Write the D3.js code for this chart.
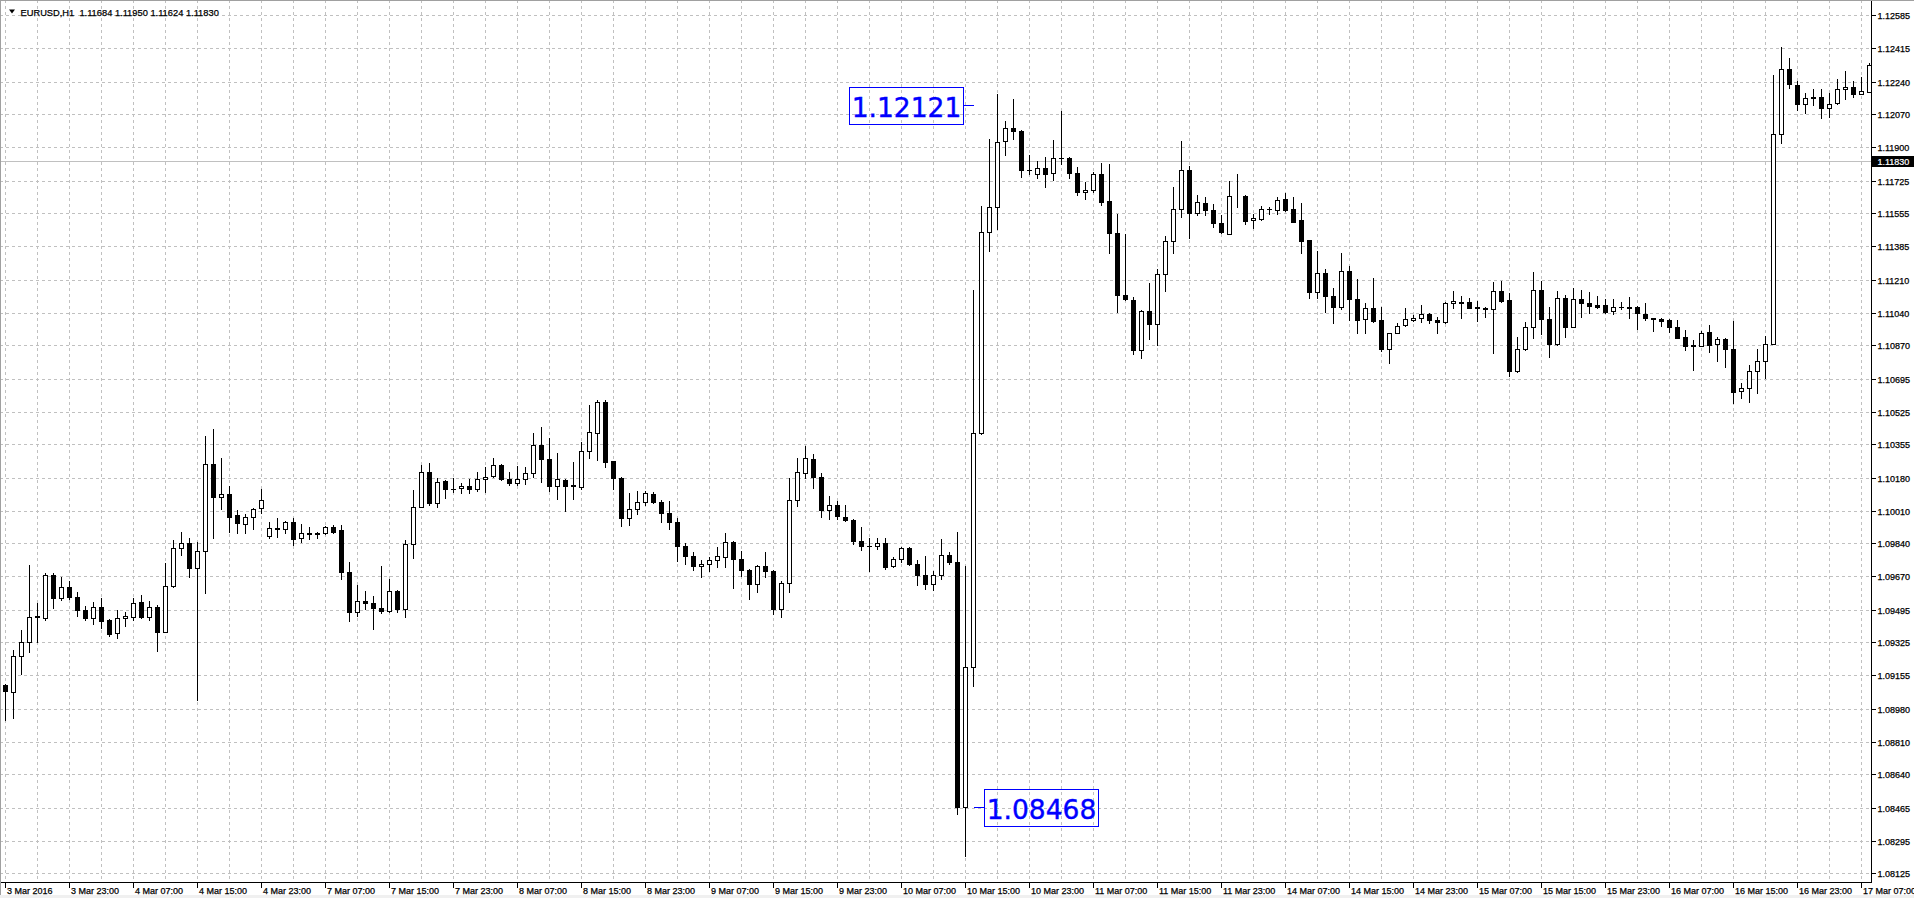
<!DOCTYPE html>
<html><head><meta charset="utf-8">
<script src="https://cdn.jsdelivr.net/npm/d3@7"></script>
<style>
html,body{margin:0;padding:0;background:#fff;overflow:hidden}
svg{display:block}
text{font-family:"Liberation Sans",Arial,sans-serif}
.lbl{stroke:#000;stroke-width:0.25px}
</style></head><body>
<svg id="c" width="1914" height="898"></svg>
<script>
// ---------------- DATA ----------------
const symbolTitle = "EURUSD,H1";
const headerOHLC = ["1.11684", "1.11950", "1.11624", "1.11830"];
const bidPrice = 1.11830;

const open = [
1.09104,1.09069,1.09256,1.09326,1.09462,1.09450,1.09676,1.09554,1.09611,1.09560,
1.09494,1.09454,1.09508,1.09442,1.09372,1.09450,1.09459,1.09534,1.09459,1.09508,
1.09381,1.09620,1.09818,1.09840,1.09710,1.09802,1.10251,1.10083,1.10095,1.09986,
1.09939,1.09979,1.10022,1.09880,1.09918,1.09913,1.09949,1.09866,1.09896,1.09887,
1.09896,1.09923,1.09910,1.09693,1.09481,1.09541,1.09528,1.09502,1.09490,1.09592,
1.09497,1.09835,1.10031,1.10209,1.10052,1.10164,1.10123,1.10126,1.10140,1.10121,
1.10173,1.10190,1.10246,1.10173,1.10152,1.10173,1.10204,1.10351,1.10277,1.10138,
1.10169,1.10143,1.10135,1.10322,1.10412,1.10573,1.10268,1.10181,1.09974,1.10019,
1.10053,1.10098,1.10053,1.10000,1.09953,1.09827,1.09774,1.09721,1.09734,1.09756,
1.09769,1.09849,1.09761,1.09703,1.09631,1.09721,1.09697,1.09498,1.09636,1.10066,
1.10207,1.10281,1.10185,1.10013,1.10042,1.09976,1.09962,1.09854,1.09827,1.09827,
1.09841,1.09721,1.09761,1.09814,1.09734,1.09676,1.09631,1.09676,1.09777,1.09742,
1.08468,1.09199,1.10413,1.11461,1.11591,1.11930,1.11997,1.11983,1.11779,1.11758,
1.11792,1.11763,1.11843,1.11843,1.11763,1.11665,1.11678,1.11758,1.11620,1.11453,
1.11129,1.11103,1.10843,1.11047,1.10981,1.11241,1.11413,1.11580,1.11779,1.11559,
1.11607,1.11572,1.11506,1.11448,1.11644,1.11647,1.11519,1.11527,1.11578,1.11572,
1.11628,1.11576,1.11521,1.11417,1.11148,1.11244,1.11128,1.11070,1.11256,1.11109,
1.11004,1.11062,1.11001,1.10849,1.10935,1.10975,1.11001,1.11010,1.11032,1.11001,
1.10989,1.11088,1.11096,1.11093,1.11070,1.11065,1.11056,1.11152,1.11105,1.10736,
1.10849,1.10963,1.11157,1.11004,1.10875,1.11114,1.10963,1.11109,1.11088,1.11079,
1.11079,1.11050,1.11067,1.11067,1.11067,1.11031,1.11010,1.11004,1.11001,1.10963,
1.10911,1.10871,1.10868,1.10937,1.10875,1.10901,1.10849,1.10634,1.10646,1.10738,
1.10790,1.10877,1.11966,1.12304,1.12223,1.12122,1.12159,1.12159,1.12101,1.12127,
1.12200,1.12214,1.12174,1.12188];
const high = [
1.09110,1.09286,1.09390,1.09728,1.09528,1.09688,1.09684,1.09667,1.09646,1.09589,
1.09514,1.09534,1.09554,1.09445,1.09494,1.09485,1.09554,1.09571,1.09541,1.09519,
1.09736,1.09858,1.09901,1.09870,1.09849,1.10398,1.10433,1.10282,1.10138,1.10013,
1.09993,1.10022,1.10123,1.09949,1.09970,1.09956,1.09970,1.09939,1.09927,1.09901,
1.09930,1.09935,1.09935,1.09741,1.09624,1.09592,1.09568,1.09722,1.09655,1.09598,
1.09858,1.10117,1.10247,1.10259,1.10178,1.10169,1.10178,1.10152,1.10173,1.10213,
1.10239,1.10282,1.10253,1.10213,1.10242,1.10239,1.10415,1.10443,1.10386,1.10308,
1.10173,1.10265,1.10365,1.10559,1.10584,1.10584,1.10270,1.10183,1.10103,1.10112,
1.10111,1.10106,1.10066,1.10061,1.09973,1.09841,1.09795,1.09756,1.09769,1.09822,
1.09894,1.09854,1.09801,1.09708,1.09729,1.09795,1.09703,1.09644,1.10180,1.10286,
1.10347,1.10307,1.10206,1.10087,1.10061,1.10039,1.09968,1.09923,1.09867,1.09867,
1.09867,1.09769,1.09822,1.09822,1.09756,1.09774,1.09695,1.09862,1.09795,1.09901,
1.09724,1.11156,1.11594,1.11944,1.12174,1.12036,1.12148,1.11989,1.11859,1.11830,
1.11851,1.11938,1.12089,1.11851,1.11798,1.11718,1.11771,1.11816,1.11811,1.11554,
1.11448,1.11121,1.11055,1.11193,1.11267,1.11440,1.11692,1.11930,1.11803,1.11652,
1.11639,1.11604,1.11546,1.11723,1.11758,1.11652,1.11554,1.11594,1.11591,1.11639,
1.11660,1.11642,1.11608,1.11417,1.11362,1.11266,1.11169,1.11348,1.11284,1.11214,
1.11088,1.11218,1.11070,1.10935,1.10987,1.11065,1.11027,1.11079,1.11039,1.11015,
1.11096,1.11154,1.11126,1.11117,1.11100,1.11070,1.11200,1.11206,1.11143,1.10915,
1.10992,1.11252,1.11206,1.11070,1.11154,1.11131,1.11166,1.11157,1.11145,1.11126,
1.11109,1.11109,1.11096,1.11119,1.11074,1.11091,1.11010,1.11010,1.11004,1.11001,
1.10949,1.10897,1.10946,1.10975,1.10915,1.10906,1.10996,1.10675,1.10767,1.10849,
1.10920,1.12275,1.12422,1.12365,1.12243,1.12183,1.12200,1.12200,1.12179,1.12252,
1.12295,1.12243,1.12262,1.12339];
const low = [
1.08920,1.08931,1.09161,1.09277,1.09326,1.09442,1.09502,1.09546,1.09549,1.09464,
1.09442,1.09421,1.09402,1.09360,1.09350,1.09412,1.09442,1.09450,1.09442,1.09282,
1.09381,1.09615,1.09780,1.09667,1.09026,1.09584,1.09870,1.10019,1.09901,1.09896,
1.09896,1.09913,1.09999,1.09870,1.09875,1.09896,1.09832,1.09849,1.09862,1.09866,
1.09887,1.09892,1.09655,1.09438,1.09464,1.09499,1.09395,1.09476,1.09481,1.09481,
1.09459,1.09762,1.10027,1.10039,1.10027,1.10078,1.10109,1.10103,1.10103,1.10114,
1.10109,1.10183,1.10169,1.10143,1.10143,1.10149,1.10183,1.10161,1.10114,1.10069,
1.10010,1.10069,1.10123,1.10285,1.10273,1.10239,1.10123,1.09930,1.09935,1.09993,
1.10042,1.10048,1.09949,1.09915,1.09748,1.09734,1.09703,1.09663,1.09697,1.09716,
1.09716,1.09610,1.09668,1.09549,1.09589,1.09663,1.09472,1.09456,1.09589,1.10034,
1.10180,1.10127,1.09976,1.09968,1.09968,1.09955,1.09835,1.09803,1.09697,1.09809,
1.09708,1.09716,1.09742,1.09729,1.09623,1.09602,1.09597,1.09655,1.09734,1.08435,
1.08217,1.09098,1.10410,1.11360,1.11474,1.11859,1.11944,1.11745,1.11758,1.11737,
1.11692,1.11731,1.11811,1.11739,1.11652,1.11631,1.11665,1.11599,1.11352,1.11042,
1.11103,1.10824,1.10803,1.10901,1.10870,1.11153,1.11352,1.11538,1.11427,1.11546,
1.11546,1.11485,1.11453,1.11448,1.11586,1.11498,1.11480,1.11519,1.11554,1.11554,
1.11569,1.11512,1.11348,1.11117,1.11117,1.11044,1.10984,1.11057,1.11001,1.10932,
1.10932,1.10992,1.10840,1.10776,1.10932,1.10971,1.10996,1.10992,1.10987,1.10932,
1.10984,1.11065,1.11010,1.11062,1.10996,1.11015,1.10831,1.11096,1.10710,1.10733,
1.10846,1.10909,1.10928,1.10811,1.10871,1.10911,1.10963,1.11015,1.11039,1.11062,
1.11036,1.11032,1.11056,1.11010,1.10954,1.11001,1.10946,1.10972,1.10941,1.10906,
1.10845,1.10741,1.10866,1.10837,1.10788,1.10759,1.10571,1.10594,1.10577,1.10623,
1.10698,1.10877,1.11923,1.12209,1.12093,1.12079,1.12119,1.12049,1.12058,1.12124,
1.12148,1.12159,1.12174,1.12188];
const close = [
1.09072,1.09256,1.09326,1.09459,1.09459,1.09676,1.09554,1.09611,1.09560,1.09494,
1.09450,1.09508,1.09438,1.09367,1.09450,1.09461,1.09528,1.09459,1.09508,1.09381,
1.09620,1.09814,1.09840,1.09710,1.09802,1.10251,1.10083,1.10095,1.09979,1.09944,
1.09979,1.10019,1.10065,1.09918,1.09913,1.09949,1.09861,1.09896,1.09887,1.09896,
1.09923,1.09901,1.09693,1.09481,1.09542,1.09528,1.09506,1.09490,1.09592,1.09497,
1.09835,1.10031,1.10209,1.10052,1.10157,1.10121,1.10123,1.10140,1.10121,1.10173,
1.10183,1.10246,1.10176,1.10152,1.10173,1.10204,1.10351,1.10277,1.10140,1.10173,
1.10140,1.10140,1.10322,1.10417,1.10573,1.10265,1.10181,1.09974,1.10019,1.10054,
1.10100,1.10053,1.10000,1.09953,1.09827,1.09774,1.09721,1.09734,1.09756,1.09774,
1.09849,1.09761,1.09703,1.09631,1.09721,1.09697,1.09498,1.09636,1.10066,1.10212,
1.10286,1.10185,1.10013,1.10042,1.09981,1.09962,1.09854,1.09827,1.09827,1.09841,
1.09716,1.09761,1.09814,1.09734,1.09676,1.09628,1.09676,1.09777,1.09742,1.08468,
1.09199,1.10413,1.11461,1.11586,1.11925,1.11997,1.11983,1.11779,1.11779,1.11792,
1.11758,1.11843,1.11843,1.11763,1.11665,1.11678,1.11758,1.11612,1.11453,1.11129,
1.11108,1.10843,1.11047,1.10981,1.11241,1.11413,1.11580,1.11779,1.11559,1.11612,
1.11572,1.11506,1.11458,1.11644,1.11647,1.11514,1.11532,1.11578,1.11578,1.11625,
1.11573,1.11512,1.11414,1.11148,1.11244,1.11128,1.11070,1.11256,1.11109,1.11001,
1.11062,1.10996,1.10849,1.10932,1.10970,1.11004,1.11010,1.11031,1.11001,1.10989,
1.11088,1.11100,1.11091,1.11065,1.11065,1.11058,1.11152,1.11102,1.10736,1.10849,
1.10963,1.11157,1.11004,1.10875,1.11114,1.10963,1.11109,1.11088,1.11076,1.11070,
1.11044,1.11067,1.11067,1.11065,1.11036,1.11010,1.11004,1.10998,1.10963,1.10909,
1.10868,1.10866,1.10935,1.10871,1.10901,1.10849,1.10629,1.10646,1.10738,1.10790,
1.10875,1.11966,1.12304,1.12226,1.12122,1.12153,1.12153,1.12101,1.12122,1.12200,
1.12214,1.12174,1.12191,1.12327];

const priceTicks = [1.12585,1.12415,1.12240,1.12070,1.11900,1.11725,1.11555,1.11385,1.11210,
  1.11040,1.10870,1.10695,1.10525,1.10355,1.10180,1.10010,1.09840,1.09670,1.09495,1.09325,
  1.09155,1.08980,1.08810,1.08640,1.08465,1.08295,1.08125];
const timeLabels = ["3 Mar 2016","3 Mar 23:00","4 Mar 07:00","4 Mar 15:00","4 Mar 23:00",
  "7 Mar 07:00","7 Mar 15:00","7 Mar 23:00","8 Mar 07:00","8 Mar 15:00","8 Mar 23:00",
  "9 Mar 07:00","9 Mar 15:00","9 Mar 23:00","10 Mar 07:00","10 Mar 15:00","10 Mar 23:00",
  "11 Mar 07:00","11 Mar 15:00","11 Mar 23:00","14 Mar 07:00","14 Mar 15:00","14 Mar 23:00",
  "15 Mar 07:00","15 Mar 15:00","15 Mar 23:00","16 Mar 07:00","16 Mar 15:00","16 Mar 23:00",
  "17 Mar 07:00"];
const barsPerLabel = 8;
const barsPerGrid = 4;
const annotationTexts = ["1.12121", "1.08468"];
const annotationPrices = [1.12121, 1.08468];
const annotationBar = 121;

// ---------------- LAYOUT ----------------
const W = 1914, H = 898;
const axisX = 1871.5;    // price scale line
const axisY = 882.5;     // time scale line
const svg = d3.select("#c");

const x = d3.scaleLinear().domain([0, 232]).range([5.5, 1861.5]);
const y = d3.scaleLinear().domain([1.08125, 1.12585]).range([873.3, 15.3]);
const py = v => Math.round(y(v)) + 0.5;
const bx = i => Math.floor(x(i)) + 0.5;

svg.append("rect").attr("width", W).attr("height", H).attr("fill", "#fff");

const plot = svg.append("g");
svg.append("clipPath").attr("id", "pc").append("rect")
  .attr("x", 0).attr("y", 0).attr("width", axisX).attr("height", axisY);

// grid
const grid = plot.append("g").attr("stroke", "#c0c0c0").attr("stroke-dasharray", "3,3")
  .attr("shape-rendering", "crispEdges");
grid.selectAll("line.h").data(priceTicks).join("line")
  .attr("x1", 0).attr("x2", axisX).attr("y1", d => py(d)).attr("y2", d => py(d));
const gridBars = d3.range(0, open.length, barsPerGrid);
grid.selectAll("line.v").data(gridBars).join("line")
  .attr("x1", d => bx(d)).attr("x2", d => bx(d)).attr("y1", 0).attr("y2", axisY);

// bid line
plot.append("line").attr("x1", 0).attr("x2", axisX)
  .attr("y1", py(bidPrice)).attr("y2", py(bidPrice))
  .attr("stroke", "#c0c0c0").attr("shape-rendering", "crispEdges");

// candles
const candles = plot.append("g").attr("clip-path", "url(#pc)").attr("shape-rendering", "crispEdges");
const idx = d3.range(open.length);
candles.selectAll("line.w").data(idx).join("line")
  .attr("x1", i => bx(i)).attr("x2", i => bx(i))
  .attr("y1", i => Math.round(y(high[i]))).attr("y2", i => Math.round(y(low[i])) + 1)
  .attr("stroke", "#000");
candles.selectAll("rect.b").data(idx).join("rect")
  .attr("x", i => close[i] > open[i] ? bx(i) - 2 : bx(i) - 2.5)
  .attr("width", i => close[i] > open[i] ? 4 : 5)
  .attr("y", i => {
    const t = Math.round(y(Math.max(open[i], close[i])));
    return close[i] > open[i] ? t + 0.5 : t;
  })
  .attr("height", i => {
    const t = Math.round(y(Math.max(open[i], close[i])));
    const b = Math.round(y(Math.min(open[i], close[i])));
    return close[i] > open[i] ? Math.max(b - t, 0) : Math.max(b - t + 1, 1);
  })
  .attr("fill", i => close[i] > open[i] ? "#fff" : "#000")
  .attr("stroke", i => close[i] > open[i] ? "#000" : "none");

// annotations
const ax = bx(annotationBar);
const annG = plot.append("g");
annotationTexts.forEach((t, k) => {
  const yy = py(annotationPrices[k]);
  const left = k === 0;
  const bw = 114, bh = 37;
  const x0 = left ? ax - 10 - bw : ax + 11;
  annG.append("line").attr("x1", left ? x0 + bw : ax).attr("x2", left ? ax : x0)
    .attr("y1", yy).attr("y2", yy).attr("stroke", "#0000ff").attr("shape-rendering", "crispEdges");
  annG.append("rect").attr("x", x0).attr("y", Math.round(yy - bh / 2) + 0.5)
    .attr("width", bw).attr("height", bh).attr("fill", "none").attr("stroke", "#0000ff")
    .attr("shape-rendering", "crispEdges");
  annG.append("text").attr("x", x0 + bw / 2).attr("y", Math.round(yy - bh / 2) + 30)
    .attr("text-anchor", "middle").attr("fill", "#0000ff")
    .style("font-family", "'DejaVu Sans', Verdana, sans-serif").style("font-size", "26.5px")
    .style("stroke", "#0000ff").style("stroke-width", "0.4px")
    .text(t);
});

// axes lines
svg.append("line").attr("x1", axisX).attr("x2", axisX).attr("y1", 0).attr("y2", axisY + 0.5)
  .attr("stroke", "#000").attr("shape-rendering", "crispEdges");
svg.append("line").attr("x1", 0).attr("x2", axisX + 0.5).attr("y1", axisY).attr("y2", axisY)
  .attr("stroke", "#000").attr("shape-rendering", "crispEdges");

// price axis
const pa = svg.append("g").attr("shape-rendering", "crispEdges");
pa.selectAll("line").data(priceTicks).join("line")
  .attr("x1", axisX).attr("x2", axisX + 4).attr("y1", d => py(d)).attr("y2", d => py(d))
  .attr("stroke", "#000");
pa.selectAll("text").data(priceTicks).join("text")
  .attr("class", "lbl")
  .attr("x", 1877.5).attr("y", d => py(d) + 3.5)
  .style("font-size", "9px").attr("fill", "#000")
  .text(d => d.toFixed(5));

// bid label
svg.append("rect").attr("x", 1872).attr("y", py(bidPrice) - 5.5).attr("width", 42).attr("height", 11)
  .attr("fill", "#000");
svg.append("text").attr("x", 1877.5).attr("y", py(bidPrice) + 3.5).style("font-size", "9px")
  .attr("fill", "#fff").style("stroke", "#fff").style("stroke-width", "0.2px").text(bidPrice.toFixed(5));

// time axis
const ta = svg.append("g");
const labelBars = timeLabels.map((_, k) => k * barsPerLabel);
ta.selectAll("line").data(labelBars).join("line")
  .attr("x1", d => bx(d)).attr("x2", d => bx(d)).attr("y1", axisY).attr("y2", axisY + 5)
  .attr("stroke", "#000").attr("shape-rendering", "crispEdges");
ta.selectAll("text").data(timeLabels).join("text")
  .attr("class", "lbl")
  .attr("x", (d, k) => bx(labelBars[k]) + 1.5).attr("y", axisY + 11)
  .style("font-size", "9px").attr("fill", "#000").text(d => d);

// title
svg.append("path").attr("d", "M9,9.5 L15,9.5 L12,13.5 Z").attr("fill", "#000");
svg.append("text").attr("class", "lbl").attr("x", 20.5).attr("y", 15.5).style("font-size", "9.3px").attr("fill", "#000")
  .attr("xml:space", "preserve")
  .text(symbolTitle + "  " + headerOHLC.join(" "));

// window frame
svg.append("line").attr("x1", 0.5).attr("x2", 0.5).attr("y1", 0).attr("y2", H)
  .attr("stroke", "#a0a0a0").attr("shape-rendering", "crispEdges");
svg.append("line").attr("x1", 0).attr("x2", W).attr("y1", 0.5).attr("y2", 0.5)
  .attr("stroke", "#a0a0a0").attr("shape-rendering", "crispEdges");
svg.append("rect").attr("x", 0).attr("y", 895).attr("width", W).attr("height", 3).attr("fill", "#f0f0f0");
</script>
</body></html>
